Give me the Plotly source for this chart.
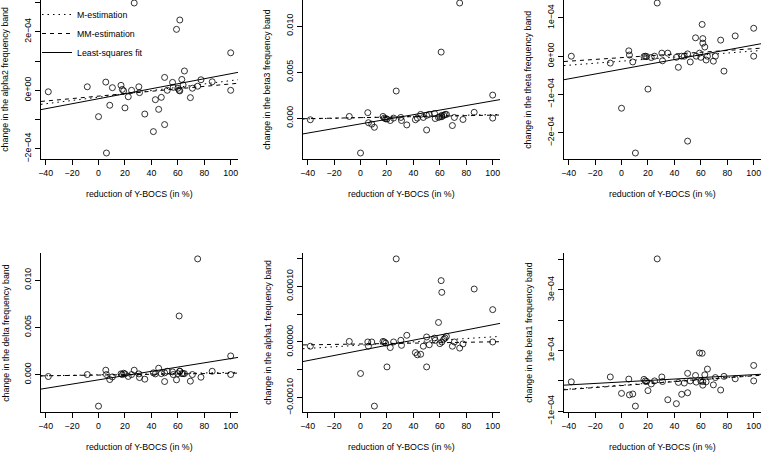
import plotly.graph_objects as go

# ---------------- data ----------------
x_reduction = [-38, -8.5, 0, 5.5, 6, 8.5, 10.5, 17, 18, 19, 20, 22.5, 25, 27, 30.5, 31, 35,
               41.5, 43, 45.5, 47.5, 50, 50, 52, 56, 56.5, 59, 60, 61, 61.5, 61.5, 63, 64, 65,
               69.5, 71, 75, 77.5, 86, 100, 100]

alpha2 = [-0.05e-4, 0.12e-4, -0.9e-4, 0.28e-4, -2.14e-4, -0.51e-4, 0.09e-4, 0.17e-4, 0.03e-4, -0.02e-4,
          -0.6e-4, -0.22e-4, 0.0, 2.98e-4, 0.12e-4, -0.08e-4, -0.81e-4, -1.41e-4, -0.32e-4, -0.65e-4,
          -0.24e-4, 0.44e-4, -1.17e-4, 0.0, 0.27e-4, 0.1e-4, 2.08e-4, 0.07e-4, 0.0, 2.4e-4,
          -0.02e-4, 0.37e-4, 0.18e-4, 0.66e-4, -0.25e-4, 0.07e-4, 0.14e-4, 0.36e-4, 0.29e-4, 1.28e-4, 0.0]

beta3 = [-0.00018, 0.00018, -0.00379, 0.00059, -0.0005, -0.00066, -0.001, 0.00018, 0.0, -0.00007,
         -0.0001, -0.00026, 0.0, 0.00294, 0.00007, -0.00026, -0.00074, -0.00018, 0.0, 0.0004,
         0.00007, 0.0003, -0.00129, 0.0004, 0.0005, -0.00005, 0.00007, 0.00015, 0.00717, 0.00015,
         0.0003, 0.0003, 0.0004, 0.0004, -0.00081, 0.00007, 0.0125, -0.00015, 0.00063, 0.0025, 0.0]

theta = [0.0, -0.18e-4, -1.36e-4, 0.14e-4, 0.03e-4, -0.15e-4, -2.53e-4, -0.01e-4, 0.0, -0.01e-4,
         -0.86e-4, -0.035e-4, 0.0, 1.39e-4, 0.08e-4, -0.12e-4, 0.08e-4, -0.03e-4, -0.29e-4, 0.0,
         0.0, 0.06e-4, -2.22e-4, -0.15e-4, 0.48e-4, 0.0, 0.08e-4, -0.03e-4, 0.83e-4, 0.46e-4,
         0.34e-4, 0.24e-4, -0.1e-4, 0.0, -0.13e-4, 0.0, 0.42e-4, -0.39e-4, 0.53e-4, 0.73e-4, 0.0]

delta = [-0.00021, 0.0, -0.00334, 0.00046, 0.0, -0.00053, -0.00025, 0.00007, 0.0, 0.00014,
         0.00007, -0.0002, 0.0, 0.00046, 0.00007, -0.00032, -0.00049, 0.00018, 0.00007, 0.00067,
         0.0001, 0.00018, -0.00074, 0.00035, 0.00028, 0.0, -0.00056, 0.0001, 0.0062, 0.00035,
         0.00035, 0.0001, 0.0001, 0.0001, -0.0007, 0.0, 0.01224, -0.00028, 0.00035, 0.00197, 0.0]

alpha1 = [-0.076e-4, 0.01e-4, -0.565e-4, 0.0, -0.076e-4, 0.0, -1.15e-4, 0.01e-4, 0.0, -0.02e-4,
          -0.447e-4, -0.1e-4, 0.0, 1.49e-4, 0.03e-4, -0.06e-4, 0.12e-4, -0.19e-4, -0.23e-4, -0.22e-4,
          -0.076e-4, 0.09e-4, -0.447e-4, -0.05e-4, 0.07e-4, 0.03e-4, 0.35e-4, -0.03e-4, 1.1e-4, 0.89e-4,
          0.0, 0.05e-4, 0.07e-4, 0.1e-4, -0.076e-4, 0.0, -0.11e-4, -0.035e-4, 0.95e-4, 0.58e-4, 0.0]

beta1 = [-0.03e-4, 0.13e-4, -0.41e-4, 0.06e-4, -0.46e-4, -0.43e-4, -0.83e-4, 0.05e-4, 0.0, -0.02e-4,
         -0.32e-4, -0.1e-4, 0.0, 4.02e-4, 0.13e-4, -0.02e-4, -0.62e-4, -0.75e-4, -0.05e-4, -0.44e-4,
         -0.07e-4, 0.25e-4, -0.39e-4, 0.0, 0.18e-4, -0.04e-4, 0.92e-4, 0.0, 0.91e-4, -0.14e-4,
         -0.02e-4, 0.2e-4, -0.03e-4, 0.39e-4, -0.13e-4, 0.11e-4, -0.3e-4, 0.15e-4, 0.07e-4, 0.51e-4, 0.0]

panel_series = [alpha2, beta3, theta, delta, alpha1, beta1]
panel_titles = ["change in the alpha2 frequency band", "change in the beta3 frequency band",
                "change in the theta frequency band", "change in the delta frequency band",
                "change in the alpha1 frequency band", "change in the beta1 frequency band"]

# fitted lines: intercept, slope
ls_intercept = [-0.288e-4, -0.00063, -0.340e-4, -0.00056, -0.151e-4, -0.035e-4]
ls_slope = [0.00853e-4, 2.5e-5, 0.00631e-4, 2.25e-5, 0.00459e-4, 0.00241e-4]
mm_intercept = [-0.199e-4, 0.00005, -0.0375e-4, -0.000055, -0.036e-4, -0.154e-4]
mm_slope = [0.00416e-4, 2.7e-6, 0.00234e-4, 1.95e-6, 0.000385e-4, 0.00322e-4]
m_intercept = [-0.234e-4, 0.00005, -0.13e-4, -0.00003, -0.0565e-4, -0.14e-4]
m_slope = [0.00564e-4, 3.35e-6, 0.00265e-4, 2.5e-6, 0.00148e-4, 0.0032e-4]

x_ticks = [-40, -20, 0, 20, 40, 60, 80, 100]
x_ticklabels = ["\u221240", "\u221220", "0", "20", "40", "60", "80", "100"]
y_ticks = [
    [-2e-4, -1e-4, 0, 1e-4, 2e-4, 3e-4],
    [0, 0.005, 0.010],
    [-2e-4, -1e-4, 0, 1e-4],
    [0, 0.005, 0.010],
    [-1e-4, -5e-5, 0, 5e-5, 1e-4, 1.5e-4],
    [-1e-4, 0, 1e-4, 2e-4, 3e-4, 4e-4],
]
y_ticklabels = [
    ["\u22122e\u221204", "", "0e+00", "", "2e\u221204", ""],
    ["0.000", "0.005", "0.010"],
    ["\u22122e\u221204", "\u22121e\u221204", "0e+00", "1e\u221204"],
    ["0.000", "0.005", "0.010"],
    ["\u22120.00010", "", "0.00000", "", "0.00010", ""],
    ["\u22121e\u221204", "", "1e\u221204", "", "3e\u221204", ""],
]
x_title = "reduction of Y-BOCS (in %)"

# ---------------- layout geometry (pixels) ----------------
W, H = 763, 456
COL_L = [41, 303, 564]
COL_R = [238, 500, 761]
ROW_T = [-3.0, 253]     # top of the R plot region (row 1 is cut by the image edge)
ROW_B = [159, 412]
FONT = dict(family="Liberation Sans, Arial, sans-serif", size=8.8, color="black")


def r_lim(v):
    lo, hi = min(v), max(v)
    d = 0.04 * (hi - lo)
    return [lo - d, hi + d]


fig = go.Figure()
annotations = []
xlim = r_lim(x_reduction)

for i, yv in enumerate(panel_series):
    row, col = divmod(i, 3)
    n = "" if i == 0 else str(i + 1)
    xa, ya = "x" + n, "y" + n
    ylo, yhi = r_lim(yv)
    top = ROW_T[row]
    bot = ROW_B[row]
    vis_top = max(top, 0.0)
    yhi_vis = ylo + (yhi - ylo) * (bot - vis_top) / (bot - top)

    fig.add_trace(go.Scatter(x=x_reduction, y=yv, mode="markers", xaxis=xa, yaxis=ya,
                             marker=dict(symbol="circle-open", size=6, color="black",
                                         line=dict(width=0.8, color="black")),
                             showlegend=False, hoverinfo="x+y"))
    lx = xlim
    fits = [("M-estimation", m_intercept[i], m_slope[i], "1.5px,4px"),
            ("MM-estimation", mm_intercept[i], mm_slope[i], "4px,4px"),
            ("Least-squares fit", ls_intercept[i], ls_slope[i], "solid")]
    for name, a, b, dash in fits:
        fig.add_trace(go.Scatter(x=lx, y=[a + b * lx[0], a + b * lx[1]], mode="lines",
                                 xaxis=xa, yaxis=ya, name=name,
                                 line=dict(color="black", width=1, dash=dash),
                                 showlegend=(i == 0), hoverinfo="skip"))

    dom_x = [COL_L[col] / W, COL_R[col] / W]
    dom_y = [1 - bot / H, 1 - vis_top / H]
    axis_common = dict(showgrid=False, zeroline=False, showline=True, linecolor="black",
                       linewidth=1, ticks="outside", ticklen=5, tickwidth=1,
                       tickcolor="black", tickfont=FONT, automargin=False)
    fig.update_layout(**{
        ("xaxis" + n): dict(domain=dom_x, range=xlim, anchor=ya,
                            tickmode="array", tickvals=x_ticks, ticktext=x_ticklabels,
                            **axis_common),
        ("yaxis" + n): dict(domain=dom_y, range=[ylo, yhi_vis],
                            anchor=xa, tickmode="array", tickvals=y_ticks[i],
                            ticktext=y_ticklabels[i], tickangle=-90, **axis_common),
    })

    annotations.append(dict(text=panel_titles[i], xref=xa + " domain", yref=ya + " domain",
                            x=0, y=0.5, xshift=-35.7, textangle=-90, showarrow=False,
                            xanchor="center", yanchor="middle", font=FONT))
    annotations.append(dict(text=x_title, xref=xa + " domain", yref=ya + " domain",
                            x=0.5, y=0, yshift=-35, showarrow=False,
                            xanchor="center", yanchor="middle", font=FONT))

fig.update_layout(template="none", width=W, height=H, autosize=False,
                  margin=dict(l=0, r=0, t=0, b=0, autoexpand=False),
                  paper_bgcolor="white", plot_bgcolor="white", font=FONT,
                  annotations=annotations,
                  legend=dict(x=37 / W, y=1, xanchor="left", yanchor="top",
                              bgcolor="rgba(0,0,0,0)", borderwidth=0, font=FONT,
                              tracegroupgap=0))

fig.write_html("out.html", config={"displayModeBar": False},
               post_script="document.body.style.margin='0px';document.body.style.padding='0px';")
